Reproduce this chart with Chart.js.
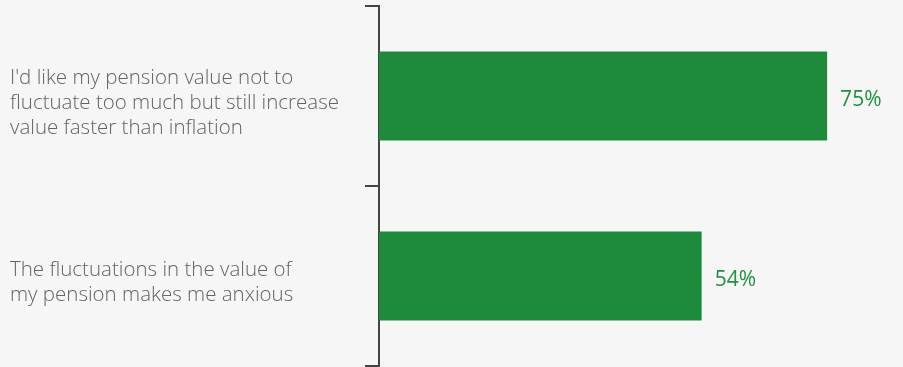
<!DOCTYPE html>
<html>
<head>
<meta charset="utf-8">
<script src="https://cdn.jsdelivr.net/npm/chart.js@4/dist/chart.umd.min.js"></script>
<style>
  html, body { margin: 0; padding: 0; background: #f6f6f6; }
  #wrap { width: 903px; height: 367px; }
</style>
</head>
<body>
<div id="wrap"><canvas id="chart"></canvas></div>
<script>
const categories = [
    ["I'd like my pension value not to", "fluctuate too much but still increase", "value faster than inflation"],
    ["The fluctuations in the value of", "my pension makes me anxious"]
];
const shares = [75, 54];

const barGreen = '#1e8a3b';

const valueLabels = {
    id: 'valueLabels',
    afterDatasetsDraw(chart) {
        const ctx = chart.ctx;
        const meta = chart.getDatasetMeta(0);
        ctx.save();
        ctx.font = '500 21px "Open Sans"';
        ctx.fillStyle = '#22903f';
        ctx.textAlign = 'left';
        ctx.textBaseline = 'middle';
        meta.data.forEach((bar, i) => {
            ctx.fillText(shares[i] + '%', bar.x + 13, bar.y + 4);
        });
        ctx.restore();
    }
};

new Chart(document.getElementById('chart'), {
    type: 'bar',
    data: {
        labels: categories,
        datasets: [{
            data: shares,
            backgroundColor: barGreen,
            borderWidth: 0,
            categoryPercentage: 1,
            barPercentage: 0.494
        }]
    },
    options: {
        indexAxis: 'y',
        responsive: true,
        maintainAspectRatio: false,
        animation: false,
        layout: { padding: { left: 10, top: 6, bottom: 1, right: 0 } },
        plugins: {
            legend: { display: false },
            tooltip: { enabled: false }
        },
        scales: {
            x: {
                display: false,
                min: 0,
                max: 87.7
            },
            y: {
                afterFit(scale) {
                    scale.width = 369;
                    scale.paddingTop = 0;
                    scale.paddingBottom = 0;
                },
                grid: {
                    display: true,
                    drawOnChartArea: false,
                    offset: true,
                    tickLength: 14,
                    color: '#444',
                    lineWidth: 2
                },
                border: { display: true, color: '#444', width: 2 },
                ticks: {
                    crossAlign: 'far',
                    color: '#636363',
                    padding: 0,
                    labelOffset: 7,
                    font: { family: 'Open Sans', size: 20.5, weight: 300, lineHeight: '25px' }
                }
            }
        }
    },
    plugins: [valueLabels]
});
</script>
</body>
</html>
